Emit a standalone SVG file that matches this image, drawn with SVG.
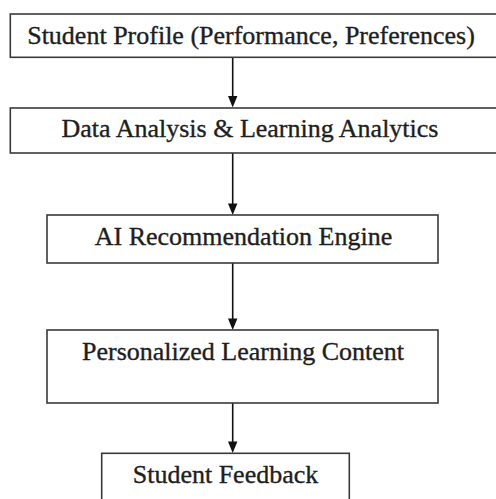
<svg xmlns="http://www.w3.org/2000/svg" width="496" height="499" viewBox="0 0 496 499">
<style>
.box{fill:#fff;stroke:#3a3a3a;stroke-width:1.6}
.lbl{font-family:"Liberation Serif","Times New Roman",serif;font-size:26px;fill:#1e1e1e;stroke:#1e1e1e;stroke-width:0.35;text-anchor:middle}
.conn{stroke:#111;stroke-width:1.6;fill:none}
.head{fill:#111}
</style>
<rect width="496" height="499" fill="#fff"/>
<g id="connectors">
<line class="conn" x1="232.7" y1="57.3" x2="232.7" y2="100"/>
<path class="head" d="M228,96 L237.4,96 L232.7,107.5 Z"/>
<line class="conn" x1="232.7" y1="153" x2="232.7" y2="207"/>
<path class="head" d="M228,203.5 L237.4,203.5 L232.7,215 Z"/>
<line class="conn" x1="232.7" y1="263" x2="232.7" y2="322"/>
<path class="head" d="M228,318.5 L237.4,318.5 L232.7,330 Z"/>
<line class="conn" x1="232.7" y1="403" x2="232.7" y2="445"/>
<path class="head" d="M228,441.5 L237.4,441.5 L232.7,453 Z"/>
</g>
<g id="node1">
<rect class="box" x="10.3" y="14" width="490" height="43.3"/>
<text class="lbl" x="251" y="44">Student Profile (Performance, Preferences)</text>
</g>
<g id="node2">
<rect class="box" x="10.3" y="108" width="490" height="45"/>
<text class="lbl" x="250" y="137">Data Analysis &amp; Learning Analytics</text>
</g>
<g id="node3">
<rect class="box" x="47" y="215" width="391" height="48"/>
<text class="lbl" x="243.5" y="245">AI Recommendation Engine</text>
</g>
<g id="node4">
<rect class="box" x="47" y="330" width="391" height="73"/>
<text class="lbl" x="243" y="360">Personalized Learning Content</text>
</g>
<g id="node5">
<rect class="box" x="101.7" y="453.3" width="247.6" height="60"/>
<text class="lbl" x="225.5" y="483">Student Feedback</text>
</g>
</svg>
